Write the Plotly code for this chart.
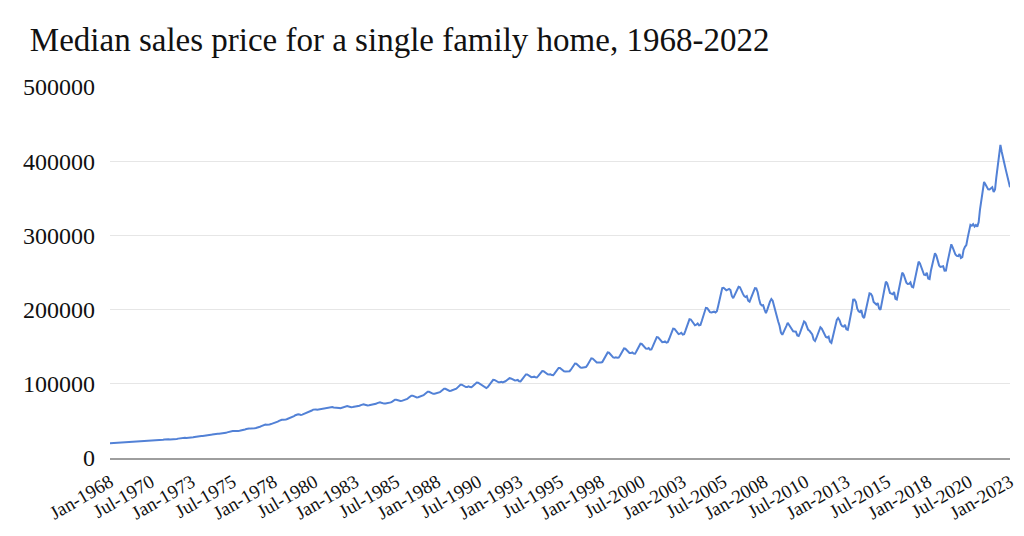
import pandas as pd
import plotly.graph_objects as go

# Median sales price, monthly, Jan 1968 - Jan 2023 (thousands of dollars)
price_1968_1977 = [
    19.8, 19.9, 20.1, 20.3, 20.5, 20.8, 20.8, 20.7, 20.5, 20.5, 20.6, 20.7,
    20.9, 21.0, 21.3, 21.5, 21.8, 22.1, 22.2, 22.1, 21.9, 21.9, 22.0, 22.1,
    22.2, 22.3, 22.6, 22.9, 23.2, 23.6, 23.7, 23.5, 23.3, 23.3, 23.4, 23.5,
    23.6, 23.8, 24.1, 24.5, 24.9, 25.3, 25.4, 25.2, 25.0, 25.0, 25.1, 25.3,
    25.5, 25.7, 26.1, 26.5, 26.9, 27.4, 27.5, 27.3, 27.1, 27.1, 27.2, 27.4,
    27.6, 27.9, 28.3, 28.8, 29.2, 29.8, 30.0, 29.8, 29.6, 29.7, 29.9, 30.1,
    30.3, 30.7, 31.2, 31.7, 32.2, 32.8, 33.0, 32.8, 32.6, 32.7, 32.9, 33.2,
    33.5, 33.9, 34.5, 35.1, 35.7, 36.3, 36.5, 36.3, 36.1, 36.3, 36.5, 36.8,
    37.0, 37.3, 37.9, 38.5, 39.0, 39.6, 39.8, 39.6, 39.5, 39.8, 40.1, 40.5,
    40.8, 41.3, 42.1, 42.9, 43.7, 44.6, 45.0, 44.9, 44.8, 45.2, 45.7, 46.3,
]
price_1978_1987 = [
    46.6, 47.1, 48.0, 49.0, 50.0, 51.0, 51.5, 51.5, 51.4, 52.0, 52.6, 53.3,
    53.6, 54.2, 55.3, 56.5, 57.6, 58.8, 59.0, 58.6, 58.0, 58.5, 59.2, 60.0,
    60.4, 61.0, 62.0, 63.0, 64.0, 65.2, 65.6, 65.3, 65.0, 65.4, 65.8, 66.2,
    66.3, 66.5, 66.8, 67.4, 68.0, 68.7, 68.9, 68.6, 68.0, 67.6, 67.5, 67.6,
    67.3, 67.0, 67.6, 68.4, 69.2, 70.0, 69.9, 69.5, 68.8, 68.5, 68.6, 68.9,
    68.8, 68.9, 69.6, 70.5, 71.3, 72.2, 72.3, 71.8, 71.0, 70.8, 71.0, 71.3,
    71.3, 71.4, 72.1, 73.0, 74.0, 75.0, 75.0, 74.4, 73.6, 73.3, 73.4, 73.8,
    73.8, 74.0, 74.9, 76.0, 77.3, 78.6, 78.6, 78.0, 77.0, 76.8, 77.0, 77.6,
    77.8, 78.3, 79.6, 81.2, 82.6, 84.0, 84.0, 83.2, 82.0, 81.6, 81.8, 82.4,
    82.6, 83.2, 84.7, 86.3, 87.8, 89.2, 89.2, 88.3, 87.0, 86.5, 86.7, 87.3,
]
price_1988_1997 = [
    87.2, 87.6, 88.8, 90.3, 91.8, 93.3, 93.3, 92.3, 90.9, 90.4, 90.6, 91.2,
    91.2, 91.8, 93.4, 95.2, 97.0, 98.8, 98.8, 97.8, 96.2, 95.6, 95.8, 96.5,
    95.6, 95.4, 96.8, 98.6, 100.4, 101.8, 101.5, 100.2, 98.3, 97.0, 96.0, 95.3,
    94.2, 95.5, 98.0, 100.8, 103.3, 105.4, 105.2, 104.0, 102.4, 102.0, 102.2, 102.8,
    101.9, 102.2, 103.4, 104.8, 106.2, 107.6, 107.2, 106.2, 105.0, 104.6, 104.7, 105.2,
    103.4, 103.2, 105.4, 107.8, 110.2, 112.6, 112.5, 111.3, 109.6, 108.9, 109.0, 109.6,
    108.9, 108.6, 110.3, 112.5, 114.8, 117.2, 117.0, 115.7, 113.8, 112.9, 112.6, 112.8,
    111.8, 111.6, 113.6, 116.0, 118.6, 121.3, 121.2, 119.8, 117.8, 116.8, 116.5, 116.8,
    116.6, 116.9, 119.0, 121.6, 124.4, 127.3, 127.1, 125.6, 123.2, 122.0, 121.8, 122.2,
    122.0, 122.5, 124.8, 127.8, 131.0, 134.3, 134.0, 132.4, 130.0, 128.8, 128.6, 129.2,
]
price_1998_2007 = [
    128.8, 129.3, 132.0, 135.2, 138.7, 142.2, 141.8, 139.8, 137.0, 135.6, 135.2, 135.8,
    135.0, 135.2, 137.8, 141.0, 144.4, 147.6, 147.2, 145.6, 143.0, 141.6, 141.4, 142.2,
    140.8, 140.6, 143.5, 147.0, 150.6, 154.0, 153.6, 151.6, 148.8, 147.4, 147.2, 148.2,
    146.0, 146.4, 150.0, 154.4, 158.8, 163.0, 162.6, 160.6, 157.4, 156.0, 156.2, 157.2,
    155.6, 156.2, 160.0, 164.8, 169.6, 174.4, 174.0, 171.8, 168.4, 167.0, 167.6, 168.8,
    166.4, 167.0, 171.4, 176.6, 182.0, 187.0, 186.6, 184.2, 180.2, 178.8, 179.6, 181.2,
    178.8, 179.4, 184.6, 190.6, 196.6, 202.4, 202.0, 199.4, 196.6, 196.0, 196.4, 197.2,
    196.0, 197.8, 204.6, 212.4, 220.6, 229.0, 229.4, 227.6, 226.0, 226.8, 227.8, 226.4,
    218.4, 215.4, 219.2, 223.6, 227.4, 230.8, 230.2, 227.0, 221.8, 218.4, 217.0, 218.2,
    212.0, 210.6, 214.6, 219.8, 224.6, 229.0, 228.6, 223.4, 214.4, 207.6, 205.6, 206.0,
]
price_2008_2017 = [
    200.0, 195.4, 199.6, 205.8, 210.8, 214.2, 212.0, 204.8, 196.8, 190.4, 184.0, 178.2,
    169.0, 166.0, 169.2, 173.4, 177.8, 182.2, 179.6, 176.4, 172.6, 170.8, 170.6, 170.2,
    165.2, 164.4, 168.4, 174.4, 179.6, 184.0, 182.4, 177.6, 172.8, 171.4, 169.6, 166.6,
    159.6, 157.6, 161.4, 166.8, 171.8, 176.2, 174.4, 169.8, 165.2, 163.2, 162.4, 163.6,
    156.8, 155.2, 162.4, 170.4, 178.6, 186.0, 188.6, 185.6, 180.2, 177.6, 177.0, 179.4,
    173.4, 172.6, 180.6, 189.8, 200.0, 213.4, 213.6, 210.4, 201.2, 197.8, 196.6, 199.2,
    190.6, 188.6, 195.6, 204.0, 213.6, 222.0, 221.4, 218.0, 210.4, 209.0, 206.8, 208.8,
    201.6, 199.6, 208.0, 218.4, 229.4, 237.6, 235.4, 229.8, 222.4, 221.6, 220.8, 223.8,
    214.6, 213.6, 222.4, 233.6, 241.6, 249.7, 247.4, 241.2, 236.4, 234.6, 234.8, 236.6,
    230.8, 230.0, 238.4, 249.2, 257.4, 264.6, 262.2, 256.8, 249.4, 247.0, 246.6, 249.8,
]
price_2018_2023 = [
    241.8, 241.0, 252.0, 261.8, 268.8, 276.0, 273.0, 266.0, 259.6, 257.6, 258.0, 258.4,
    252.4, 252.6, 262.0, 272.2, 281.0, 288.0, 284.0, 279.0, 274.2, 272.4, 272.0, 275.0,
    269.5, 270.6, 280.4, 284.6, 287.0, 297.0, 308.6, 314.2, 313.0, 315.2, 312.0, 314.0,
    311.8, 318.0, 334.4, 349.8, 361.4, 372.0, 369.0, 364.4, 362.0, 361.8, 363.6, 365.0,
    358.4, 362.0, 377.8, 392.4, 409.6, 422.0, 412.4, 402.0, 396.0, 388.0, 380.6, 372.8,
    365.0,
]

price_k = (price_1968_1977 + price_1978_1987 + price_1988_1997
           + price_1998_2007 + price_2008_2017 + price_2018_2023)
prices = [round(v * 1000) for v in price_k]
months = pd.date_range("1968-01-01", periods=len(prices), freq="MS")

fig = go.Figure()
fig.add_trace(go.Scatter(
    x=months,
    y=prices,
    mode="lines",
    line=dict(color="#5281D6", width=2),
    showlegend=False,
))

# page body has an 8px margin, so the figure is drawn 8px in from the top-left
fig.update_layout(
    width=1016,
    height=528,
    margin=dict(l=102, r=14, t=79, b=78, autoexpand=False),
    paper_bgcolor="white",
    plot_bgcolor="white",
    font=dict(family="Liberation Serif, Times New Roman, serif", color="#222222"),
    title=dict(
        text="Median sales price for a single family home, 1968-2022",
        font=dict(size=33, color="#111111"),
        xref="container", x=0.0215, xanchor="left",
        yref="container", y=0.94, yanchor="middle",
    ),
)

fig.update_xaxes(
    type="date",
    range=["1968-01-01", "2023-01-01"],
    tick0="1968-01-01",
    dtick="M30",
    tickformat="%b-%Y",
    tickangle=-30,
    tickfont=dict(size=19, color="#111111"),
    showgrid=False,
    showline=True,
    linecolor="#9E9E9E",
    linewidth=1.5,
    ticks="outside",
    ticklen=4,
    tickcolor="rgba(0,0,0,0)",
)

fig.update_yaxes(
    range=[0, 500000],
    dtick=100000,
    tickformat="d",
    tickfont=dict(size=24, color="#111111"),
    gridcolor="#E6E6E6",
    gridwidth=1,
    zeroline=False,
    ticks="",
    ticklabelstandoff=14,
)

fig.write_html("out.html")
